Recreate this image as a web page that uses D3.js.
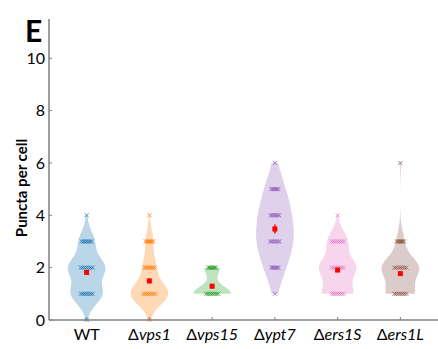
<!DOCTYPE html>
<html>
<head>
<meta charset="UTF-8" />
<script src="https://cdn.jsdelivr.net/npm/d3@7"></script>
<style>
  body { margin: 0; background: #fff; }
  text { font-family: Lato, "Open Sans", sans-serif; }
</style>
</head>
<body>
<svg width="438" height="349"></svg>
<script>
// strains on the x axis (all but WT are deletions)
var strains = ["WT", "vps1", "vps15", "ypt7", "ers1S", "ers1L"];
var isDeletion = [false, true, true, true, true, true];

// puncta values and how many cells had each value, per strain
var punctaValues = [0, 1, 2, 3, 4, 5, 6];
var countsWT    = [1, 30, 35, 15, 1, 0, 0];
var countsVps1  = [1, 45, 15, 9, 1, 0, 0];
var countsVps15 = [0, 22, 9, 0, 0, 0, 0];
var countsYpt7  = [0, 1, 8, 14, 12, 8, 1];
var countsErs1S = [0, 30, 36, 20, 1, 0, 0];
var countsErs1L = [0, 30, 40, 8, 0, 0, 1];
var allCounts = [countsWT, countsVps1, countsVps15, countsYpt7, countsErs1S, countsErs1L];

var yTicks = [0, 2, 4, 6, 8, 10];

var lineColors = ["#1f77b4", "#ff7f0e", "#2ca02c", "#9467bd", "#e377c2", "#8c564b"];

var svg = d3.select("svg");

var x = d3.scaleLinear().domain([0.4, 6.6]).range([49, 438]);
var y = d3.scaleLinear().domain([0, 11.5]).range([320, 19]);

// expand counts into raw observations
var samples = allCounts.map(function (counts) {
  var out = [];
  counts.forEach(function (c, i) {
    for (var k = 0; k < c; k++) out.push(punctaValues[i]);
  });
  return out;
});

function kde(data, bw, lo, hi) {
  var pts = d3.range(0, 121).map(function (i) { return lo + (hi - lo) * i / 120; });
  return pts.map(function (v) {
    var s = d3.sum(data, function (d) {
      var u = (v - d) / bw;
      return Math.exp(-0.5 * u * u);
    });
    return { v: v, d: s };
  });
}

var gV = svg.append("g");
var gM = svg.append("g");
var gS = svg.append("g");

samples.forEach(function (data, gi) {
  var pos = gi + 1;
  var n = data.length;
  var sd = d3.deviation(data);
  var bw = 1.25 * sd * Math.pow(n, -0.2);
  var dens = kde(data, bw, d3.min(data), d3.max(data));
  var dmax = d3.max(dens, function (d) { return d.d; });
  var area = d3.area()
    .x0(function (d) { return x(pos - 0.3 * d.d / dmax); })
    .x1(function (d) { return x(pos + 0.3 * d.d / dmax); })
    .y(function (d) { return y(d.v); });
  gV.append("path")
    .datum(dens)
    .attr("d", area)
    .attr("fill", lineColors[gi])
    .attr("fill-opacity", 0.3)
    .attr("stroke", "none");

  // x markers, spread in a row at each value
  allCounts[gi].forEach(function (c, vi) {
    if (c === 0) return;
    var w = Math.min(12, 4 + c * 0.4);
    var m = Math.min(c, 7);
    for (var k = 0; k < m; k++) {
      var off = m === 1 ? 0 : (k / (m - 1) - 0.5) * w;
      var cx = x(pos) + off, cy = y(punctaValues[vi]);
      gM.append("path")
        .attr("d", "M" + (cx - 2) + "," + (cy - 2) + "L" + (cx + 2) + "," + (cy + 2) +
                   "M" + (cx - 2) + "," + (cy + 2) + "L" + (cx + 2) + "," + (cy - 2))
        .attr("stroke", lineColors[gi])
        .attr("stroke-width", 1)
        .attr("stroke-opacity", 0.8);
    }
  });

  // mean and SEM
  var mean = d3.mean(data);
  var sem = sd / Math.sqrt(n);
  gS.append("line")
    .attr("x1", x(pos)).attr("x2", x(pos))
    .attr("y1", y(mean - sem)).attr("y2", y(mean + sem))
    .attr("stroke", "#ff0000").attr("stroke-width", 1.5);
  gS.append("rect")
    .attr("x", x(pos) - 2.5).attr("y", y(mean) - 2.5)
    .attr("width", 5).attr("height", 5)
    .attr("fill", "#ff0000");
});

// axes
var axisColor = "#7f7f7f";
svg.append("line")
  .attr("x1", x(0.4)).attr("x2", x(0.4)).attr("y1", y(11.5)).attr("y2", y(0))
  .attr("stroke", axisColor).attr("stroke-width", 1.5);
svg.append("line")
  .attr("x1", x(0.4)).attr("x2", x(6.6)).attr("y1", y(0)).attr("y2", y(0))
  .attr("stroke", axisColor).attr("stroke-width", 1.5);

svg.append("g").selectAll("line").data(yTicks).enter().append("line")
  .attr("x1", x(0.4)).attr("x2", x(0.4) + 3)
  .attr("y1", function (d) { return y(d); }).attr("y2", function (d) { return y(d); })
  .attr("stroke", axisColor);
svg.append("g").selectAll("text").data(yTicks).enter().append("text")
  .attr("x", x(0.4) - 4)
  .attr("y", function (d) { return y(d); })
  .attr("dy", "0.35em")
  .attr("text-anchor", "end")
  .style("font-size", "16px")
  .text(function (d) { return d; });

svg.append("g").selectAll("line").data(strains).enter().append("line")
  .attr("x1", function (d, i) { return x(i + 1); })
  .attr("x2", function (d, i) { return x(i + 1); })
  .attr("y1", y(0)).attr("y2", y(0) - 3)
  .attr("stroke", axisColor);

var xl = svg.append("g").selectAll("text").data(strains).enter().append("text")
  .attr("x", function (d, i) { return x(i + 1); })
  .attr("y", 340)
  .attr("text-anchor", "middle")
  .style("font-size", "16px");
xl.each(function (d, i) {
  var t = d3.select(this);
  if (isDeletion[i]) {
    t.append("tspan").text("\u0394");
    t.append("tspan").style("font-style", "italic").text(d);
  } else {
    t.text(d);
  }
});

svg.append("text")
  .attr("transform", "translate(27,188) rotate(-90)")
  .attr("text-anchor", "middle")
  .style("font-size", "15px")
  .style("font-weight", "bold")
  .text("Puncta per cell");

svg.append("text")
  .attr("x", 25).attr("y", 42)
  .style("font-size", "30px")
  .style("font-weight", "bold")
  .text("E");
</script>
</body>
</html>
